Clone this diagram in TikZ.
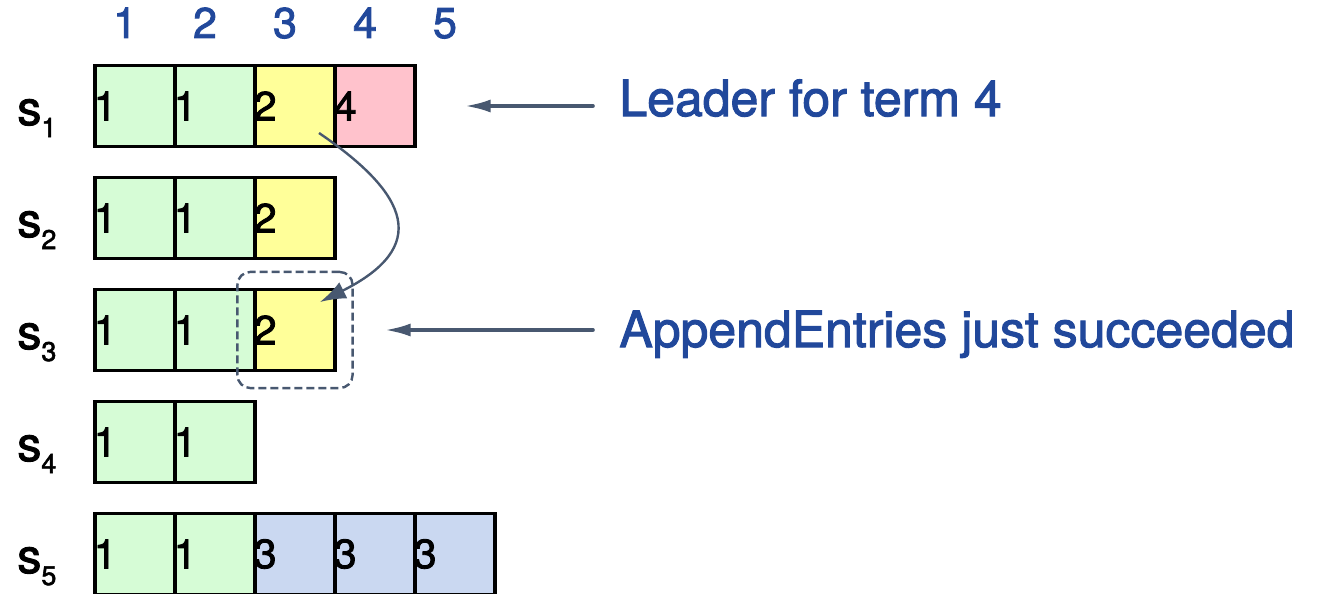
\documentclass[tikz,border=0pt]{standalone}
\usepackage{fontspec}
\setmainfont{TeX Gyre Heros}[FakeBold=2]
\usepackage{tikz}
\usetikzlibrary{arrows.meta,fit}
\definecolor{term1}{RGB}{214,252,214}
\definecolor{term2}{RGB}{255,255,153}
\definecolor{term3}{RGB}{202,216,241}
\definecolor{term4}{RGB}{255,194,204}
\definecolor{labelblue}{RGB}{33,72,155}
\definecolor{arrowgray}{RGB}{72,88,112}
\newcount\mycount

\begin{document}
\begin{tikzpicture}[x=0.5pt,y=-0.5pt,
    cell/.style={draw,line width=1.6pt,minimum width=40pt,minimum height=40.5pt,inner sep=0pt},
    entry/.style={anchor=west,inner sep=0pt,font=\fontsize{20.5}{24}\selectfont},
    index/.style={anchor=base,inner sep=0pt,text=labelblue,font=\fontsize{21.5}{26}\selectfont},
    server/.style={anchor=base west,inner sep=0pt,font=\fontsize{24}{28}\selectfont},
    note/.style={anchor=base west,inner sep=0pt,text=labelblue,font=\fontsize{25}{30}\selectfont},
    pointer/.style={draw=arrowgray,line width=1.8pt,line cap=round,-{Latex[length=13pt,width=6.5pt]}},
    flow/.style={draw=arrowgray,line width=1.2pt,-{Latex[length=13pt,width=9pt]}},
    dashbox/.style={draw=arrowgray,line width=1.2pt,dash pattern=on 4pt off 2pt,rounded corners=6.5pt,inner sep=8pt}]
  \useasboundingbox (0,0) rectangle (1317,594);
  \foreach \i in {1,...,5}{
    \node[index] (C-\i) at (45+80*\i,38) {\i};
  }
  \foreach \row/\terms in {1/{1,1,2,4},2/{1,1,2},3/{1,1,2},4/{1,1},5/{1,1,3,3,3}}{
    \mycount=\row
    \advance\mycount by -1
    \multiply\mycount by 112
    \advance\mycount by 106
    \node[server] (S-\row) at (17,\the\mycount+19) {s\raisebox{-6pt}{\fontsize{13.5}{16}\selectfont\row}};
    \foreach \term [count=\i] in \terms{
      \node[cell,fill=term\term] (N-\row-\i) at (55+80*\i,\the\mycount) {};
      \node[entry] (T-\row-\i) at (N-\row-\i.west) {\term};
    }
  }
  \node[dashbox,fit=(N-3-3)] (hl) {};
  \coordinate (src) at ([shift={(24,27)}]N-1-3.center);
  \coordinate (dst) at ([shift={(25,-28)}]N-3-3.center);
  \draw[flow] (src) .. controls +(91,62) and +(110,-55) .. (dst);
  \node[note] (lead) at (619,116) {Leader for term 4};
  \node[note] (ae) at (619,347) {AppendEntries just succeeded};
  \draw[pointer] ([xshift=-13pt]lead.west |- N-1-4.east) -- ([xshift=24pt]N-1-4.east);
  \draw[pointer] ([xshift=-13pt]ae.west |- N-3-3.east) -- ([xshift=24pt]N-3-3.east);
\end{tikzpicture}
\end{document}
